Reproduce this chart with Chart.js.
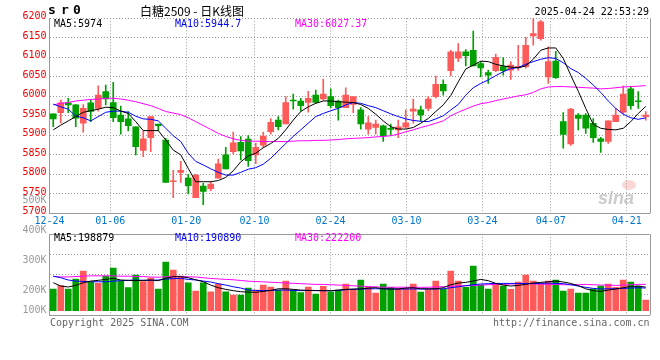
<!DOCTYPE html>
<html>
<head>
<meta charset="utf-8">
<script src="https://cdn.jsdelivr.net/npm/chart.js@4.4.1/dist/chart.umd.min.js"></script>
<style>
  body { margin: 0; background: #fff; }
  #wrap { position: relative; width: 660px; height: 360px; overflow: hidden; }
  canvas { position: absolute; left: 0; top: 0; }
</style>
</head>
<body>
<div id="wrap">
  <canvas id="kline" width="660" height="360"></canvas>
  <canvas id="vol" width="660" height="360"></canvas>
</div>
<script>
//Trading days on the chart
const dates = [
  "12-24", "12-25", "12-26", "12-27", "12-30", "12-31", "01-02", "01-03",
  "01-06", "01-07", "01-08", "01-09", "01-10", "01-13", "01-14", "01-15",
  "01-16", "01-17", "01-20", "01-21", "01-22", "01-23", "01-24", "01-27",
  "02-05", "02-06", "02-07", "02-10", "02-11", "02-12", "02-13", "02-14",
  "02-17", "02-18", "02-19", "02-20", "02-21", "02-24", "02-25", "02-26",
  "02-27", "02-28", "03-03", "03-04", "03-05", "03-06", "03-07", "03-10",
  "03-11", "03-12", "03-13", "03-14", "03-17", "03-18", "03-19", "03-20",
  "03-21", "03-24", "03-25", "03-26", "03-27", "03-28", "03-31", "04-01",
  "04-02", "04-03", "04-07", "04-08", "04-09", "04-10", "04-11", "04-14",
  "04-15", "04-16", "04-17", "04-18", "04-21", "04-22", "04-23", "04-24",
];
const tickLabels = ["12-24", "01-06", "01-20", "02-10", "02-24", "03-10", "03-24", "04-07", "04-21"];

//Daily prices
const opens = [
  5955, 5958, 5983, 5978, 5931, 5983, 5969, 6012, 5984, 5952, 5942, 5922, 5861, 5894, 5929, 5888,
  5781, 5805, 5790, 5740, 5770, 5763, 5790, 5850, 5858, 5882, 5890, 5850, 5875, 5909, 5939, 5929,
  5990, 5988, 5984, 6003, 5993, 5999, 5988, 5971, 5979, 5965, 5916, 5920, 5924, 5918, 5914, 5921,
  5962, 5965, 5969, 5999, 6031, 6066, 6098, 6114, 6118, 6084, 6061, 6066, 6076, 6067, 6074, 6076,
  6155, 6148, 6050, 6090, 5935, 5878, 5952, 5952, 5931, 5891, 5884, 5935, 5959, 6019, 5988, 5948,
];
const highs = [
  5955, 5990, 5995, 5979, 5979, 5990, 6027, 6029, 6036, 5975, 5961, 5922, 5911, 5948, 5929, 5892,
  5810, 5833, 5800, 5800, 5777, 5781, 5839, 5869, 5908, 5897, 5899, 5880, 5908, 5943, 5948, 5999,
  6006, 5995, 6013, 6016, 6044, 6019, 5990, 6022, 5999, 5971, 5948, 5939, 5926, 5929, 5939, 5965,
  5993, 5975, 5999, 6052, 6042, 6118, 6135, 6120, 6167, 6089, 6067, 6108, 6099, 6089, 6131, 6151,
  6215, 6195, 6127, 6115, 5958, 5969, 5956, 5956, 5943, 5895, 5937, 5969, 6026, 6025, 6012, 5961,
];
const lows = [
  5922, 5931, 5958, 5922, 5908, 5935, 5962, 5978, 5935, 5903, 5911, 5850, 5845, 5858, 5912, 5779,
  5740, 5779, 5750, 5740, 5722, 5758, 5790, 5814, 5852, 5837, 5820, 5827, 5868, 5903, 5914, 5929,
  5967, 5962, 5959, 5982, 5990, 5971, 5939, 5971, 5958, 5916, 5903, 5903, 5884, 5901, 5894, 5918,
  5931, 5937, 5963, 5996, 6003, 6052, 6089, 6078, 6078, 6050, 6033, 6063, 6054, 6043, 6067, 6072,
  6131, 6144, 6033, 6046, 5867, 5874, 5914, 5905, 5882, 5856, 5879, 5935, 5955, 5967, 5969, 5939,
];
const closes = [
  5942, 5983, 5978, 5944, 5969, 5961, 6003, 5993, 5945, 5935, 5925, 5871, 5891, 5948, 5925, 5779,
  5783, 5810, 5771, 5798, 5756, 5775, 5827, 5814, 5881, 5860, 5835, 5869, 5898, 5933, 5922, 5984,
  5988, 5976, 5995, 5984, 6006, 5976, 5971, 6003, 5999, 5929, 5932, 5929, 5899, 5915, 5922, 5932,
  5967, 5952, 5993, 6031, 6014, 6114, 6114, 6104, 6078, 6073, 6054, 6100, 6066, 6080, 6077, 6131,
  6161, 6191, 6089, 6048, 5902, 5967, 5943, 5918, 5894, 5884, 5937, 5952, 6006, 5976, 5986, 5952,
];

//Price moving averages
const ma5 = [
  5914, 5926, 5937, 5948, 5959, 5963, 5967, 5972, 5971, 5962, 5956, 5935, 5912, 5912, 5912, 5888,
  5862, 5850, 5815, 5781, 5781, 5781, 5784, 5792, 5809, 5832, 5847, 5854, 5868, 5879, 5892, 5914,
  5939, 5961, 5973, 5982, 5988, 5988, 5986, 5985, 5984, 5979, 5969, 5954, 5937, 5922, 5916, 5916,
  5920, 5931, 5943, 5961, 5978, 6002, 6037, 6070, 6080, 6090, 6089, 6082, 6078, 6075, 6073, 6078,
  6095, 6118, 6124, 6124, 6097, 6054, 6013, 5969, 5928, 5918, 5915, 5914, 5918, 5935, 5956, 5974,
];
const ma10 = [
  5980, 5973, 5967, 5949, 5945, 5937, 5948, 5959, 5962, 5962, 5959, 5949, 5942, 5941, 5937, 5918,
  5899, 5884, 5854, 5833, 5824, 5814, 5805, 5798, 5798, 5805, 5813, 5817, 5826, 5841, 5860, 5879,
  5897, 5914, 5931, 5948, 5956, 5963, 5969, 5978, 5984, 5982, 5976, 5971, 5963, 5955, 5948, 5942,
  5938, 5936, 5935, 5942, 5950, 5965, 5979, 6003, 6022, 6033, 6042, 6053, 6063, 6071, 6074, 6082,
  6089, 6095, 6099, 6097, 6086, 6071, 6061, 6046, 6029, 6010, 5988, 5969, 5954, 5945, 5941, 5944.7,
];
const ma30 = [
  5978, 5982, 5984, 5988, 5990, 5992, 5993, 5995, 5995, 5993, 5990, 5986, 5981, 5976, 5969, 5961,
  5957, 5953, 5945, 5935, 5925, 5915, 5905, 5897, 5891, 5887, 5885, 5885, 5884, 5884, 5884, 5884,
  5885, 5886, 5886, 5887, 5887, 5888, 5889, 5891, 5892, 5893, 5894, 5896, 5897, 5899, 5903, 5909,
  5914, 5920, 5925, 5931, 5937, 5950, 5959, 5967, 5975, 5981, 5984, 5989, 5993, 5997, 6001, 6004,
  6010, 6019, 6024, 6025, 6025, 6024, 6023, 6022, 6021, 6019, 6020, 6022, 6024, 6025, 6026, 6027.37,
];

//Volume in thousands of lots
const volume = [
  183, 211, 183, 267, 334, 239, 230, 292, 360, 250, 194, 301, 245, 275, 183, 410,
  343, 292, 236, 166, 236, 160, 225, 160, 132, 132, 191, 174, 216, 200, 174, 250,
  174, 152, 200, 141, 205, 160, 174, 225, 180, 259, 197, 149, 225, 197, 186, 186,
  225, 157, 180, 250, 180, 334, 250, 197, 377, 216, 183, 225, 208, 180, 242, 301,
  250, 230, 250, 259, 166, 183, 149, 149, 183, 208, 225, 197, 259, 242, 208, 90,
];
const volMa5 = [
  236, 208, 200, 214, 236, 250, 256, 264, 273, 259, 256, 253, 256, 259, 253, 273,
  287, 287, 278, 261, 244, 216, 194, 180, 169, 160, 157, 155, 163, 171, 185, 185,
  180, 174, 171, 169, 169, 169, 174, 180, 183, 183, 191, 194, 185, 183, 183, 191,
  194, 185, 185, 185, 194, 219, 233, 239, 250, 264, 253, 230, 216, 208, 214, 222,
  233, 239, 244, 250, 242, 230, 211, 185, 169, 163, 174, 183, 194, 205, 207, 198.879,
];
const volMa10 = [
  292, 278, 259, 250, 247, 244, 244, 244, 250, 253, 256, 259, 256, 256, 259, 267,
  270, 273, 264, 259, 250, 242, 228, 216, 202, 191, 174, 171, 169, 171, 174, 174,
  171, 169, 171, 171, 169, 169, 171, 177, 180, 183, 185, 185, 185, 183, 183, 183,
  183, 183, 183, 183, 185, 194, 202, 211, 219, 225, 228, 230, 230, 230, 230, 230,
  230, 230, 233, 230, 228, 219, 208, 197, 188, 183, 185, 185, 188, 191, 194, 190.89,
];
const volMa30 = [
  288, 285, 285, 288, 291, 294, 294, 294, 294, 291, 291, 288, 288, 284, 282, 286,
  288, 288, 286, 284, 278, 272, 268, 264, 261, 255, 249, 246, 243, 240, 237, 234,
  231, 228, 225, 222, 222, 219, 216, 213, 210, 207, 204, 201, 198, 198, 198, 198,
  198, 197, 198, 200, 203, 206, 209, 210, 213, 216, 219, 222, 222, 225, 228, 228,
  225, 225, 222, 222, 219, 219, 219, 222, 219, 216, 216, 213, 216, 219, 222, 222.2,
];

const UP = "#ff5a5a";
const DOWN = "#00a000";
const GRID = "#999999";
const MONO = "DejaVu Sans Mono";
const candleColors = closes.map((c, i) => (c >= opens[i] ? UP : DOWN));

//Shared x axis: Sina spaces its date grid by width/(n-1) while candles use width/n
const xAxis = showLabels => ({
  type: "category",
  offset: true,
  grid: { offset: false, color: GRID, drawTicks: false },
  border: { display: true, color: GRID, dash: [1, 2] },
  ticks: {
    display: showLabels,
    autoSkip: false,
    maxRotation: 0,
    padding: 2,
    color: "#0077cc",
    font: { family: MONO, size: 10 },
    callback: (v, i) => tickLabels[i],
  },
  afterBuildTicks: scale => {
    scale.ticks = tickLabels.map(l => ({
      value: (dates.indexOf(l) * dates.length) / (dates.length - 1) - 0.5,
    }));
  },
  afterFit: scale => {
    scale.height = showLabels ? 18.7 : 0;
  },
});

const line = (data, color) => ({
  type: "line",
  data,
  borderColor: color,
  borderWidth: 1,
  pointRadius: 0,
  fill: false,
  tension: 0,
  order: 0,
});

//Right edge and optional solid top edge of a panel
const frame = top => ({
  id: "frame",
  afterDraw(chart) {
    const { ctx, chartArea: a } = chart;
    ctx.save();
    ctx.strokeStyle = GRID;
    ctx.lineWidth = 1;
    ctx.beginPath();
    ctx.moveTo(Math.round(a.right) + 0.5, a.top);
    ctx.lineTo(Math.round(a.right) + 0.5, a.bottom);
    if (top) {
      ctx.moveTo(a.left, Math.round(a.top) + 0.5);
      ctx.lineTo(a.right, Math.round(a.top) + 0.5);
    }
    ctx.stroke();
    ctx.restore();
  },
});

const text = (ctx, str, x, y, color, font, align) => {
  ctx.fillStyle = color;
  ctx.font = font;
  ctx.textAlign = align || "left";
  ctx.textBaseline = "middle";
  ctx.fillText(str, x, y);
};

const f10 = `10px "${MONO}"`;

const watermark = {
  id: "watermark",
  beforeDatasetsDraw(chart) {
    const ctx = chart.ctx;
    ctx.save();
    ctx.fillStyle = "rgba(240,140,140,0.35)";
    ctx.beginPath();
    ctx.ellipse(629, 185, 7, 5, 0, 0, Math.PI * 2);
    ctx.fill();
    text(ctx, "sina", 598, 199, "rgba(185,185,185,0.75)", 'italic bold 18px "Liberation Sans"');
    ctx.restore();
  },
};

const labels = {
  id: "labels",
  afterDraw(chart) {
    const ctx = chart.ctx;
    ctx.save();
    //header
    const bold = `bold 13px "${MONO}"`;
    text(ctx, "s", 52, 11, "#000", bold, "center");
    text(ctx, "r", 65, 11, "#000", bold, "center");
    text(ctx, "0", 77, 11, "#000", bold, "center");
    text(ctx, "白糖2509 - 日K线图", 140, 11.5, "#000", '12px "Noto Sans CJK SC"');
    text(ctx, "2025-04-24 22:53:29", 649, 12, "#000", f10, "right");
    //MA legends
    text(ctx, "MA5:5974", 54, 24.3, "#000", f10);
    text(ctx, "MA10:5944.7", 175, 24.3, "#0000ee", f10);
    text(ctx, "MA30:6027.37", 295, 24.3, "#ff00ff", f10);
    text(ctx, "MA5:198879", 54, 238.5, "#000", f10);
    text(ctx, "MA10:190890", 175, 238.5, "#0000ee", f10);
    text(ctx, "MA30:222200", 295, 238.5, "#ff00ff", f10);
    //volume labels
    text(ctx, "500K", 46.5, 200, "#999", f10, "right");
    text(ctx, "400K", 46.5, 230.7, "#999", f10, "right");
    text(ctx, "300K", 46.5, 260.7, "#999", f10, "right");
    text(ctx, "200K", 46.5, 290.7, "#999", f10, "right");
    text(ctx, "100K", 46.5, 310, "#999", f10, "right");
    //footer
    text(ctx, "Copyright 2025 SINA.COM", 50, 323.7, "#666", f10);
    text(ctx, "http://finance.sina.com.cn", 649.5, 323.7, "#666", f10, "right");
    ctx.restore();
  },
};

const common = {
  responsive: false,
  animation: false,
  devicePixelRatio: 1,
  events: [],
  plugins: { legend: { display: false }, tooltip: { enabled: false } },
};

//Price panel
new Chart(document.getElementById("kline"), {
  type: "bar",
  data: {
    labels: dates,
    datasets: [
      line(ma5, "#000000"),
      line(ma10, "#0000ff"),
      line(ma30, "#ff00ff"),
      {
        data: opens.map((o, i) => [o, closes[i]]),
        backgroundColor: candleColors,
        barThickness: 6,
        minBarLength: 1,
        grouped: false,
        order: 1,
      },
      {
        data: lows.map((l, i) => [l, highs[i]]),
        backgroundColor: candleColors,
        barThickness: 1,
        grouped: false,
        order: 2,
      },
    ],
  },
  options: {
    ...common,
    layout: { padding: { top: 18.3, right: 10.5, left: 0, bottom: 128 } },
    scales: {
      x: xAxis(true),
      y: {
        min: 5700,
        max: 6200,
        grid: { color: GRID, drawTicks: false },
        border: { display: true, color: GRID, dash: [1, 2] },
        ticks: {
          stepSize: 50,
          padding: 3,
          labelOffset: -1.5,
          color: "#ee0000",
          font: { family: MONO, size: 10 },
          callback: v => String(v),
        },
        afterFit: scale => {
          scale.width = 49.5;
        },
      },
    },
  },
  plugins: [watermark, frame(false)],
});

//Volume panel
const volMin = -36;
const volMax = 644;
new Chart(document.getElementById("vol"), {
  type: "bar",
  data: {
    labels: dates,
    datasets: [
      line(volMa5, "#000000"),
      line(volMa10, "#0000ff"),
      line(volMa30, "#ff00ff"),
      {
        data: volume,
        backgroundColor: candleColors,
        barThickness: 6,
        grouped: false,
        order: 1,
      },
    ],
  },
  options: {
    ...common,
    layout: { padding: { top: 234.3, right: 10.5, left: 0, bottom: 45 } },
    scales: {
      x: xAxis(false),
      y: {
        min: volMin,
        max: volMax,
        grid: { color: GRID, drawTicks: false },
        border: { display: true, color: GRID, dash: [1, 2] },
        ticks: { display: false },
        afterBuildTicks: scale => {
          scale.ticks = [0, 1, 2, 3, 4].map(k => ({ value: volMin + (k * (volMax - volMin)) / 4 }));
        },
        afterFit: scale => {
          scale.width = 49.5;
        },
      },
    },
  },
  plugins: [frame(true), labels],
});
</script>
</body>
</html>
